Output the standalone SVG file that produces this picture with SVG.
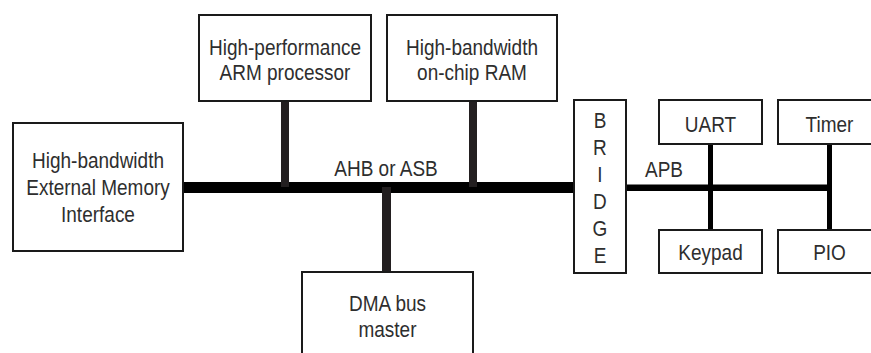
<svg xmlns="http://www.w3.org/2000/svg" width="871" height="353" viewBox="0 0 871 353">
<style>
.box{fill:#fff;stroke:#1a1a1a;stroke-width:2}
text{font-family:"Liberation Sans",Arial,sans-serif;font-size:19px;fill:#2e2e2e;text-anchor:middle;transform-box:fill-box;transform-origin:50% 81%;transform:scaleY(1.15)}
.bus{fill:#000}
.stub{fill:#231f20}
</style>
<rect width="871" height="353" fill="#fff"/>
<g id="connectors">
<rect class="bus" x="183" y="182" width="392" height="11"/>
<rect class="stub" x="281" y="101" width="8" height="86"/>
<rect class="stub" x="469" y="101" width="8" height="86"/>
<rect class="stub" x="382" y="187" width="9" height="85"/>
<rect class="bus" x="626" y="184.5" width="206" height="6.5"/>
<rect class="bus" x="708" y="144" width="5" height="86"/>
<rect class="bus" x="827" y="144" width="5" height="86"/>
<text x="386" y="176">AHB or ASB</text>
<text x="664" y="177">APB</text>
</g>
<g id="ext-mem">
<rect class="box" x="13" y="123" width="170" height="128"/>
<text x="98" y="168">High-bandwidth</text>
<text x="98" y="195">External Memory</text>
<text x="98" y="221.5">Interface</text>
</g>
<g id="arm">
<rect class="box" x="199" y="15" width="172" height="86"/>
<text x="285" y="55">High-performance</text>
<text x="285" y="80">ARM processor</text>
</g>
<g id="ram">
<rect class="box" x="387" y="15" width="170" height="86"/>
<text x="472" y="55">High-bandwidth</text>
<text x="472" y="80">on-chip RAM</text>
</g>
<g id="dma">
<rect class="box" x="302" y="272" width="171" height="90"/>
<text x="387.5" y="311">DMA bus</text>
<text x="387.5" y="337">master</text>
</g>
<g id="bridge">
<rect class="box" x="574" y="100" width="52" height="173"/>
<text x="600" y="128">B</text>
<text x="600" y="155">R</text>
<text x="600" y="182">I</text>
<text x="600" y="209">D</text>
<text x="600" y="236">G</text>
<text x="600" y="263">E</text>
</g>
<g id="uart">
<rect class="box" x="659" y="100" width="103" height="44"/>
<text x="710.5" y="132">UART</text>
</g>
<g id="timer">
<rect class="box" x="778" y="100" width="104" height="44"/>
<text x="829.5" y="132">Timer</text>
</g>
<g id="keypad">
<rect class="box" x="659" y="230" width="103" height="43"/>
<text x="710.5" y="260">Keypad</text>
</g>
<g id="pio">
<rect class="box" x="778" y="230" width="104" height="43"/>
<text x="829.5" y="260">PIO</text>
</g>
</svg>
